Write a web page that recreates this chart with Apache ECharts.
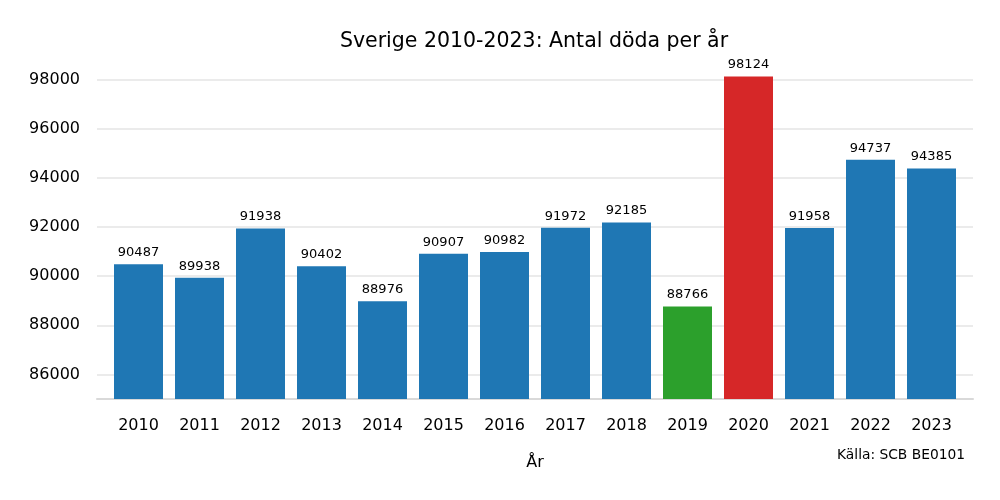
<!DOCTYPE html>
<html><head><meta charset="utf-8">
<script src="https://cdn.jsdelivr.net/npm/echarts@6/dist/echarts.min.js"></script>
<style>html,body{margin:0;padding:0;background:#fff}#c{width:1000px;height:500px}</style>
</head><body><div id="c"></div>
<script>
const years = ['2010','2011','2012','2013','2014','2015','2016','2017','2018','2019','2020','2021','2022','2023'];
const deaths = [90487, 89938, 91938, 90402, 88976, 90907, 90982, 91972, 92185, 88766, 98124, 91958, 94737, 94385];
const barColors = ['#1f77b4','#1f77b4','#1f77b4','#1f77b4','#1f77b4','#1f77b4','#1f77b4','#1f77b4','#1f77b4','#2ca02c','#d62728','#1f77b4','#1f77b4','#1f77b4'];
const yMin = 85000, yMax = 99000;

const font = 'DejaVu Sans';
const chart = echarts.init(document.getElementById('c'));
chart.setOption({
  animation: false,
  textStyle: { fontFamily: font },
  title: { text: 'Sverige 2010-2023: Antal döda per år', left: 529, top: 26, textAlign: 'center',
    textStyle: { fontFamily: font, fontSize: 20.5, fontWeight: 'normal', color: '#000' } },
  graphic: [{ type: 'text', right: 35, top: 448, style: { text: 'Källa: SCB BE0101', font: '13.8px DejaVu Sans', fill: '#000' } }],
  grid: [
    { left: 108, right: 38, top: 55, bottom: 101 },
    { left: 97, right: 27, top: 55, bottom: 101 }
  ],
  xAxis: [
    { type: 'category', gridIndex: 0, data: years, name: 'År', nameLocation: 'middle', nameGap: 56,
      nameTextStyle: { fontFamily: font, fontSize: 16, color: '#000' },
      axisLine: { show: false }, axisTick: { show: false },
      axisLabel: { fontFamily: font, fontSize: 16, color: '#000', margin: 19 } },
    { type: 'value', gridIndex: 1, min: 0, max: 1, show: true,
      axisLine: { show: true, lineStyle: { color: '#d9d9d9', width: 2 } },
      axisTick: { show: false }, axisLabel: { show: false }, splitLine: { show: false } }
  ],
  yAxis: [
    { type: 'value', gridIndex: 0, min: yMin, max: yMax, interval: 1000, show: false, splitLine: { show: false } },
    { type: 'value', gridIndex: 1, min: yMin, max: yMax, interval: 1000,
      axisLine: { show: false }, axisTick: { show: false },
      axisLabel: { fontFamily: font, fontSize: 16, color: '#000', margin: 17,
        formatter: v => (v % 2000 === 0 && v > yMin && v < yMax) ? String(v) : '' },
      splitLine: { show: true, lineStyle: { color: ['rgba(0,0,0,0)', '#ebebeb'], width: 2 } } }
  ],
  series: [{
    type: 'bar', xAxisIndex: 0, yAxisIndex: 0, barWidth: 49,
    data: deaths.map((v, i) => ({ value: v, itemStyle: { color: barColors[i] } })),
    label: { show: true, position: 'top', distance: 5, fontFamily: font, fontSize: 13, color: '#000' }
  }]
});
</script></body></html>
